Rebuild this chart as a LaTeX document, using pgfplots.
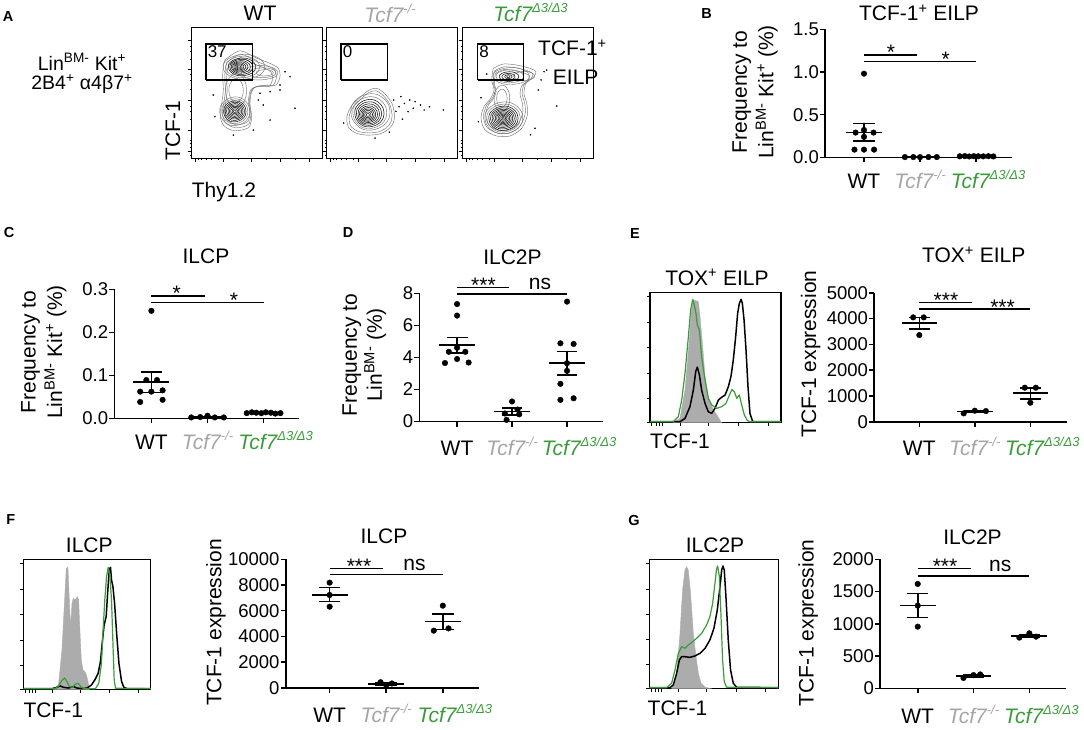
\documentclass[border=0pt]{standalone}
\usepackage{fontspec}
\setmainfont{Liberation Sans}
\usepackage{pgfplots}
\usepackage{pgfplotstable}
\pgfplotsset{compat=1.18}
\definecolor{tgreen}{RGB}{58,155,58}
\definecolor{tgray}{RGB}{165,165,165}
\definecolor{hgray}{RGB}{172,172,172}
\newcommand\Lf{\fontsize{21}{25}\selectfont}
\newcommand\Tf{\fontsize{18.5}{22}\selectfont}
\newcommand\Pf{\fontsize{14.5}{17}\selectfont\bfseries}
\newcommand\Sup[1]{\raisebox{0.42em}{\fontsize{13}{15}\selectfont #1}}
\newcommand\KO{{\color{tgray}\itshape Tcf7\Sup{-/-}}}
\newcommand\DD{{\color{tgreen}\itshape Tcf7\Sup{Δ3/Δ3}}}
\newcommand\DDs{\hspace*{24pt}\DD}

\pgfplotstableread{
x y
1 0
0.93 0.38
0.7 0.72
0.36 0.95
0 1
-0.4 0.9
-0.72 0.68
-0.95 0.36
-1 0
-0.92 -0.4
-0.68 -0.74
-0.36 -0.96
0.02 -1
0.4 -0.9
0.74 -0.68
0.95 -0.34
1 0
}\ublob

\pgfplotstableread{
x y
25.5 75.3
37.0 82.3
49.8 76.6
60.0 72.7
66.3 68.9
67.6 62.5
64.5 56.1
57.4 56.1
49.2 54.8
45.9 51.0
44.6 42.1
45.9 31.9
44.1 24.2
38.3 21.6
30.6 21.6
24.2 25.5
21.7 33.2
23.0 42.1
24.2 52.3
23.7 62.5
24.2 70.1
25.5 75.3
}\wtouter

\pgfplotstableread{
x y
23.4 68.9
31.1 72.2
41.3 71.4
51.5 68.9
56.1 66.3
54.1 62.0
48.5 57.4
46.9 49.8
49.0 42.1
49.5 33.2
45.2 23.0
36.2 17.1
26.0 17.1
17.1 21.7
14.0 30.6
16.3 39.5
21.4 45.9
24.0 52.3
22.2 60.0
23.4 68.9
}\ddouter

\pgfplotstableread{
x y
52 33
50 42
44 50
38 53.6
32 52
26 47
19 40
15.5 32
16.5 24
22 19.5
30 17.8
40 18.5
47 22
51 27
52 33
}\koouter

\newcommand\lev[5]{\addplot[#5, smooth, no marks] table[x expr={#1+#3*\thisrow{x}}, y expr={#2+#4*\thisrow{y}}]{\ublob};}
\newcommand\semA[3]{\addplot[sem] coordinates {(-0.32,#1) (0.32,#1)};\addplot[sem] coordinates {(0,#2) (0,#3)};\addplot[sem] coordinates {(-0.19,#2) (0.19,#2)};\addplot[sem] coordinates {(-0.19,#3) (0.19,#3)};}
\newcommand\semB[3]{\addplot[sem] coordinates {(0.68,#1) (1.32,#1)};\addplot[sem] coordinates {(1,#2) (1,#3)};\addplot[sem] coordinates {(0.81,#2) (1.19,#2)};\addplot[sem] coordinates {(0.81,#3) (1.19,#3)};}
\newcommand\semC[3]{\addplot[sem] coordinates {(1.68,#1) (2.32,#1)};\addplot[sem] coordinates {(2,#2) (2,#3)};\addplot[sem] coordinates {(1.81,#2) (2.19,#2)};\addplot[sem] coordinates {(1.81,#3) (2.19,#3)};}

\pgfplotsset{
 lg/.style={black!55, line width=0.45pt},
 ld/.style={black, line width=0.5pt},
 evt/.style={only marks, mark=*, mark size=0.55pt, black},
 flow/.style={scale only axis, width=130.6pt, height=130.6pt, xmin=0, xmax=100, ymin=0, ymax=100,
   axis line style={line width=1.3pt}, tick align=outside, xticklabels={}, yticklabels={},
   xtick pos=bottom, ytick pos=left, major tick length=4pt, minor tick length=2pt,
   every tick/.style={black, line width=0.8pt},
   xtick={2.5,24.2,46,67.6,90}, minor xtick={5.1,7.6,11.5,15.3,20.4,35.7,57.4,79.1},
   ytick={5,21.6,44.6,68.1,90.6}, minor ytick={2.5,8,11.4,14,30,36,40,53,60,64,76,82,86}},
 hist/.style={scale only axis, xmin=0, xmax=100, ymin=0, ymax=100,
   axis line style={line width=1.3pt}, tick align=outside, xticklabels={}, yticklabels={},
   xtick pos=bottom, ytick pos=left, major tick length=3.5pt,
   every tick/.style={black, line width=0.8pt},
   xtick={1.3,4.6,7.1,9.7,22.9,44.5,67.4,90.3}, ytick={0,18.7,37.9,57.5,76.7,96.6}},
 dotplot/.style={scale only axis, axis lines=left, axis line style={-, line width=1.6pt},
   tick align=outside, major tick length=5pt, every tick/.style={black, line width=1.6pt},
   xtick={0,1,2}, xticklabels={WT,\KO,\DDs},
   x tick label style={font=\Lf, anchor=base, yshift=-26pt},
   y tick label style={font=\Tf, inner sep=1pt},
   /pgf/number format/assume math mode=true,
   /pgf/number format/set thousands separator={},
   scaled y ticks=false, ymin=0, clip=false},
 dots/.style={only marks, mark=*, mark size=2.8pt, black},
 sem/.style={black, line width=1.6pt, no marks},
 sig/.style={black, line width=1.4pt, no marks},
 onedec/.style={yticklabel style={/pgf/number format/fixed, /pgf/number format/fixed zerofill, /pgf/number format/precision=1}},
}

\begin{document}
\begin{tikzpicture}
\path[use as bounding box] (0pt,0pt) rectangle (1084pt,-729pt);

% ---------------- Panel A ----------------
\node[font=\Pf] at (8pt,-16.7pt) {A};
\node[font=\fontsize{19.5}{23}\selectfont] at (82pt,-62pt) {Lin\textsuperscript{BM-} Kit\textsuperscript{+}};
\node[font=\fontsize{19.5}{23}\selectfont] at (82pt,-84pt) {2B4\textsuperscript{+} α4β7\textsuperscript{+}};
\node[font=\Lf] at (260pt,-13pt) {WT};
\node[font=\Lf] at (390pt,-13pt) {\KO};
\node[font=\Lf] at (530.5pt,-12pt) {\DD};
\node[font=\Lf, rotate=90] at (173pt,-131pt) {TCF-1};
\node[font=\Lf, anchor=west, inner sep=0pt] at (191.7pt,-192pt) {Thy1.2};

\begin{axis}[flow, at={(191.7pt,-158.3pt)}, anchor=south west]
 \addplot[lg, smooth, no marks] table {\wtouter};
 \addplot[lg, smooth, no marks] table[x expr={40+0.9*(\thisrow{x}-40)}, y expr={50+0.92*(\thisrow{y}-50)}] {\wtouter};
 \addplot[lg, smooth, no marks] table[x expr={39+0.8*(\thisrow{x}-39)}, y expr={50+0.84*(\thisrow{y}-50)}] {\wtouter};
 \lev{40}{70}{16}{9.5}{lg}
 \lev{39}{70}{13}{8.2}{lg}
 \lev{38.5}{70}{10.5}{6.8}{ld}
 \lev{38}{70}{8.8}{5.8}{ld}
 \lev{37.6}{70}{7.3}{4.8}{ld}
 \lev{37.2}{70}{5.9}{3.9}{ld}
 \lev{36.8}{70}{4.6}{3.1}{ld}
 \lev{36.5}{70}{3.4}{2.3}{ld}
 \lev{36.3}{70}{2.3}{1.6}{ld}
 \lev{36.2}{70}{1.2}{0.8}{ld}
 \lev{52}{65.5}{14}{5.5}{lg}
 \lev{54}{65.5}{10.5}{3.8}{lg}
 \lev{56}{65.5}{6.5}{2.4}{lg}
 \lev{34}{52}{8}{13}{lg}
 \lev{34}{52}{5.5}{9}{lg}
 \lev{33}{36}{11.5}{11}{lg}
 \lev{33}{36}{10}{9.5}{lg}
 \lev{33}{36}{8.6}{8.1}{ld}
 \lev{33}{36}{7.4}{7}{ld}
 \lev{33}{36}{6.3}{5.9}{ld}
 \lev{33}{36}{5.2}{4.9}{ld}
 \lev{33}{36}{4.1}{3.9}{ld}
 \lev{33}{36}{3.1}{2.9}{ld}
 \lev{33}{36}{2}{1.9}{ld}
 \lev{33}{36}{1}{0.9}{ld}
 \addplot[evt] coordinates {(71.4,66.3)(75.3,62.5)(67.6,56.1)(60.0,51.0)(52.3,49.8)(67.6,52.3)(51.0,44.6)(79.1,38.3)(60.0,29.3)(16.5,48.5)(17.8,31.9)(31.9,17.8)(47.2,21.6)(54.8,40.8)};
 \addplot[black, line width=1.3pt, no marks] coordinates {(11,60)(46.4,60)(46.4,87.5)(11,87.5)(11,60)};
 \node[anchor=north west, inner sep=1.5pt, font=\fontsize{17}{20}\selectfont] at (axis cs:11,87.5) {37};
\end{axis}

\begin{axis}[flow, at={(326.7pt,-158.3pt)}, anchor=south west]
 \addplot[lg, smooth, no marks] table {\koouter};
 \addplot[lg, smooth, no marks] table[x expr={33+0.9*(\thisrow{x}-33)}, y expr={35+0.9*(\thisrow{y}-35)}] {\koouter};
 \lev{33.5}{35.5}{15}{14}{lg}
 \lev{33}{35}{13}{12.2}{lg}
 \lev{32.7}{34.6}{11.2}{10.5}{ld}
 \lev{32.4}{34.3}{9.6}{9}{ld}
 \lev{32.2}{34}{8.2}{7.7}{ld}
 \lev{32}{33.8}{6.9}{6.4}{ld}
 \lev{31.8}{33.6}{5.7}{5.3}{ld}
 \lev{31.7}{33.5}{4.6}{4.3}{ld}
 \lev{31.6}{33.4}{3.5}{3.3}{ld}
 \lev{31.5}{33.3}{2.4}{2.2}{ld}
 \lev{31.5}{33.2}{1.2}{1.1}{ld}
 \addplot[evt] coordinates {(51.3,44.6)(55.4,39.5)(59.5,42.0)(63.6,44.6)(67.7,43.4)(66.3,38.3)(71.8,40.8)(74.6,37.0)(89.3,37.0)(56.8,47.2)(62.3,35.7)(78.7,39.5)(53,36)(58,30)(13,27)(37,15.5)(48,20)};
 \addplot[black, line width=1.3pt, no marks] coordinates {(11,60)(46.4,60)(46.4,87.5)(11,87.5)(11,60)};
 \node[anchor=north west, inner sep=1.5pt, font=\fontsize{17}{20}\selectfont] at (axis cs:11,87.5) {0};
\end{axis}

\begin{axis}[flow, at={(462.7pt,-158.3pt)}, anchor=south west]
 \addplot[lg, smooth, no marks] table {\ddouter};
 \addplot[lg, smooth, no marks] table[x expr={33+0.9*(\thisrow{x}-33)}, y expr={45+0.92*(\thisrow{y}-45)}] {\ddouter};
 \addplot[lg, smooth, no marks] table[x expr={32+0.8*(\thisrow{x}-32)}, y expr={45+0.84*(\thisrow{y}-45)}] {\ddouter};
 \lev{37}{63}{14}{6.5}{lg}
 \lev{36}{62.8}{10.5}{5}{lg}
 \lev{35.5}{62.6}{7.5}{3.7}{ld}
 \lev{35}{62.5}{5}{2.5}{ld}
 \lev{35}{62.5}{2.8}{1.5}{ld}
 \lev{35}{62.5}{1.2}{0.7}{ld}
 \lev{47}{63}{8}{3.5}{lg}
 \lev{30}{46}{6}{10}{lg}
 \lev{30}{46}{4}{7}{lg}
 \lev{31.5}{31}{14.5}{12.2}{lg}
 \lev{31.3}{30.8}{12.8}{10.7}{lg}
 \lev{31.2}{30.7}{11.2}{9.3}{ld}
 \lev{31.1}{30.6}{9.8}{8.1}{ld}
 \lev{31}{30.6}{8.5}{7}{ld}
 \lev{31}{30.6}{7.3}{6}{ld}
 \lev{31}{30.6}{6.1}{5}{ld}
 \lev{31}{30.6}{5}{4.1}{ld}
 \lev{31}{30.6}{3.9}{3.2}{ld}
 \lev{31}{30.6}{2.8}{2.3}{ld}
 \lev{31}{30.6}{1.8}{1.4}{ld}
 \lev{31}{30.6}{0.8}{0.6}{ld}
 \addplot[evt] coordinates {(18.4,64.5)(14.0,46.4)(57.9,52.3)(72.0,40.0)(64.3,67.6)(62.3,66.3)(55.4,23.0)(60,60)(12,28)(52,18)};
 \addplot[black, line width=1.3pt, no marks] coordinates {(11.5,60)(46.4,60)(46.4,87.5)(11.5,87.5)(11.5,60)};
 \node[anchor=north west, inner sep=1.5pt, font=\fontsize{17}{20}\selectfont] at (axis cs:11.5,87.5) {8};
\end{axis}
\node[font=\Lf, anchor=west, inner sep=0pt] at (538pt,-48pt) {TCF-1\textsuperscript{+}};
\node[font=\Lf, anchor=west, inner sep=0pt] at (552.7pt,-77.3pt) {EILP};

% ---------------- Panel B ----------------
\node[font=\Pf] at (706.7pt,-13.3pt) {B};
\node[font=\Lf] at (919pt,-13pt) {TCF-1\textsuperscript{+} EILP};
\node[font=\fontsize{21}{26.6}\selectfont, rotate=90, align=center] at (755pt,-92pt) {Frequency to\\Lin\textsuperscript{BM-} Kit\textsuperscript{+} (\%)};
\begin{axis}[dotplot, onedec, at={(825pt,-157.3pt)}, anchor=south west, width=186.7pt, height=128pt,
  xmin=-0.696, xmax=2.637, ymax=1.5, ytick={0,0.5,1,1.5}]
 \addplot[dots] coordinates {(0,0.98)(-0.15,0.29)(0.17,0.29)(0,0.24)(0,0.32)(-0.17,0.09)(0,0.09)(0.18,0.09)};
 \addplot[dots] coordinates {(0.73,0.003)(0.88,0.003)(1,0.002)(1.15,0.003)(1.3,0.003)};
 \addplot[dots] coordinates {(1.71,0.012)(1.8,0.014)(1.88,0.01)(1.96,0.013)(2.04,0.012)(2.13,0.011)(2.22,0.013)(2.31,0.01)};
 \semA{0.293}{0.19}{0.394}
 \semB{0.003}{0.002}{0.004}
 \semC{0.012}{0.011}{0.013}
 \addplot[sig] coordinates {(0,1.199)(0.95,1.199)};
 \addplot[sig] coordinates {(0,1.121)(2,1.121)};
 \node[font=\Lf, anchor=base, yshift=-5pt] at (axis cs:0.48,1.199) {*};
 \node[font=\Lf, anchor=base, yshift=-5pt] at (axis cs:1.46,1.121) {*};
\end{axis}

% ---------------- Panel C ----------------
\node[font=\Pf] at (9pt,-233pt) {C};
\node[font=\Lf] at (206pt,-256pt) {ILCP};
\node[font=\fontsize{21}{26.6}\selectfont, rotate=90, align=center] at (43.8pt,-352pt) {Frequency to\\Lin\textsuperscript{BM-} Kit\textsuperscript{+} (\%)};
\begin{axis}[dotplot, onedec, at={(114.3pt,-418.3pt)}, anchor=south west, width=185pt, height=129pt,
  xmin=-0.661, xmax=2.636, ymax=0.3, ytick={0,0.1,0.2,0.3}]
 \addplot[dots] coordinates {(0,0.25)(-0.09,0.089)(0.1,0.089)(-0.2,0.062)(0,0.062)(0.2,0.065)(-0.2,0.038)(0.2,0.043)};
 \addplot[dots] coordinates {(0.71,0.002)(0.87,0.003)(1,0.006)(1.13,0.002)(1.29,0.002)};
 \addplot[dots] coordinates {(1.7,0.012)(1.79,0.014)(1.87,0.013)(1.96,0.012)(2.04,0.014)(2.13,0.013)(2.21,0.011)(2.3,0.012)};
 \semA{0.084}{0.060}{0.108}
 \semB{0.003}{0.002}{0.004}
 \semC{0.0125}{0.012}{0.013}
 \addplot[sig] coordinates {(0,0.2845)(0.95,0.2845)};
 \addplot[sig] coordinates {(0,0.269)(2,0.269)};
 \node[font=\Lf, anchor=base, yshift=-5pt] at (axis cs:0.45,0.2845) {*};
 \node[font=\Lf, anchor=base, yshift=-5pt] at (axis cs:1.47,0.269) {*};
\end{axis}

% ---------------- Panel D ----------------
\node[font=\Pf] at (348pt,-233pt) {D};
\node[font=\Lf] at (512.5pt,-257pt) {ILC2P};
\node[font=\fontsize{21}{25}\selectfont, rotate=90, align=center] at (364.3pt,-355pt) {Frequency to\\Lin\textsuperscript{BM-} (\%)};
\begin{axis}[dotplot, at={(419.3pt,-421.5pt)}, anchor=south west, width=184pt, height=128.2pt,
  xmin=-0.687, xmax=2.66, ymax=8, ytick={0,2,4,6,8}, x tick label style={yshift=-3pt}]
 \addplot[dots] coordinates {(0,7.33)(0,6.61)(0,4.6)(-0.15,4.35)(0.15,4.35)(-0.22,3.65)(0,3.9)(0.21,3.68)};
 \addplot[dots] coordinates {(1,1.25)(1.1,0.75)(0.87,0.5)(1.13,0.45)(0.9,0.1)};
 \addplot[dots] coordinates {(2,7.48)(1.88,4.88)(2.12,4.84)(2,3.64)(2,3.16)(1.88,2.35)(1.88,1.35)(2.12,1.45)};
 \semA{4.76}{4.26}{5.24}
 \semB{0.62}{0.42}{0.83}
 \semC{3.64}{2.91}{4.36}
 \addplot[sig] coordinates {(0,8.35)(0.95,8.35)};
 \addplot[sig] coordinates {(0,7.96)(2,7.96)};
 \node[font=\Lf, anchor=base, yshift=-5pt] at (axis cs:0.48,8.35) {***};
 \node[font=\Lf, anchor=base, yshift=4pt] at (axis cs:1.51,7.96) {ns};
\end{axis}

% ---------------- Panel E ----------------
\node[font=\Pf] at (635pt,-233.3pt) {E};
\node[font=\Lf] at (717pt,-277.3pt) {TOX\textsuperscript{+} EILP};
\node[font=\Lf, anchor=west, inner sep=0pt] at (650pt,-441.7pt) {TCF-1};
\begin{axis}[hist, at={(650pt,-422.7pt)}, anchor=south west, width=131pt, height=130.4pt]
 \addplot[fill=hgray, draw=hgray] coordinates {(17.8,0)(22.9,3.3)(26.7,25.1)(30.0,63.4)(31.8,89.0)(33.1,94.1)(35.1,93.6)(36.9,92.8)(38.2,81.4)(40.2,58.4)(42.0,35.4)(44.5,20.1)(47.1,12.4)(50.9,6.0)(54.7,0)} \closedcycle;
 \addplot[black, line width=1.5pt, line join=round] coordinates {(0,0.8)(22.9,0.8)(26.7,3.3)(30.5,12.3)(33.1,25.1)(34.9,39.2)(36.1,42.6)(37.7,36.7)(39.4,25.1)(42.0,14.8)(44.5,8.4)(47.1,7.2)(49.6,11.0)(52.2,17.4)(54.7,19.5)(57.3,21.2)(59.8,27.6)(61.8,35.4)(63.6,48.2)(65.4,66.0)(66.9,83.9)(68.2,91.5)(69.5,94.6)(70.5,91.5)(71.8,78.7)(73.3,55.7)(74.8,27.6)(76.3,7.2)(78.4,0.8)(100,0.8)};
 \addplot[tgreen, line width=1.2pt, line join=round] coordinates {(0,0.8)(17.8,0.8)(21.6,4.6)(24.2,17.4)(26.7,37.9)(29.3,66.0)(31.0,86.4)(32.6,94.6)(33.8,90.2)(35.1,83.9)(36.1,74.9)(37.7,71.1)(39.4,50.6)(42.0,32.7)(44.5,18.7)(47.1,13.6)(48.9,12.3)(50.9,11.0)(54.7,12.3)(58.0,14.8)(60.6,21.2)(62.6,25.5)(64.4,23.7)(66.2,18.7)(68.2,21.2)(70.0,13.6)(72.0,6.0)(74.3,1.6)(76.3,0.8)(100,0.8)};
\end{axis}
\node[font=\Lf] at (973.7pt,-255pt) {TOX\textsuperscript{+} EILP};
\node[font=\Lf, rotate=90] at (810.6pt,-354pt) {TCF-1 expression};
\begin{axis}[dotplot, at={(874.1pt,-421.7pt)}, anchor=south west, width=193.3pt, height=129pt,
  xmin=-0.814, xmax=2.668, ymax=5000, ytick={0,1000,2000,3000,4000,5000}, x tick label style={yshift=-3pt}]
 \addplot[dots] coordinates {(-0.11,4044)(0.08,4044)(0,3359)};
 \addplot[dots] coordinates {(0.8,323)(1,426)(1.2,413)};
 \addplot[dots] coordinates {(1.9,1318)(2.1,1318)(2,736)};
 \semA{3816}{3590}{4035}
 \semB{390}{350}{425}
 \semC{1124}{880}{1318}
 \addplot[sig] coordinates {(0,4612)(0.95,4612)};
 \addplot[sig] coordinates {(0,4367)(2,4367)};
 \node[font=\Lf, anchor=base, yshift=-5pt] at (axis cs:0.48,4612) {***};
 \node[font=\Lf, anchor=base, yshift=-5pt] at (axis cs:1.5,4367) {***};
\end{axis}

% ---------------- Panel F ----------------
\node[font=\Pf] at (10.7pt,-519.3pt) {F};
\node[font=\Lf] at (89.3pt,-545pt) {ILCP};
\node[font=\Lf, anchor=west, inner sep=0pt] at (23.3pt,-710.7pt) {TCF-1};
\begin{axis}[hist, at={(23.3pt,-689.3pt)}, anchor=south west, width=127.5pt, height=130pt]
 \addplot[fill=hgray, draw=hgray] coordinates {(23.7,0)(27.6,3.3)(30.3,30.3)(32.4,68.7)(33.7,93.1)(35.0,93.8)(36.1,68.7)(37.1,48.2)(38.2,66.2)(39.2,70.0)(40.8,68.7)(42.4,71.3)(43.4,68.7)(44.5,43.1)(45.5,22.6)(46.8,14.9)(48.2,13.6)(49.5,11.0)(50.8,5.9)(51.8,0)} \closedcycle;
 \addplot[black, line width=1.5pt, line join=round] coordinates {(0,0.5)(22.4,0.5)(26.3,1.5)(28.9,2.6)(31.6,1.5)(35.5,1.0)(39.5,2.1)(42.1,1.0)(46.1,0.5)(50.0,1.0)(53.4,3.3)(56.1,7.2)(58.7,12.3)(60.5,21.3)(62.4,40.5)(63.4,49.5)(65.0,55.9)(66.3,76.4)(67.4,91.8)(68.4,93.8)(69.2,84.1)(70.3,79.0)(71.6,66.2)(73.2,43.1)(75.0,20.0)(77.1,5.9)(78.9,1.5)(81.6,0.5)(100,0.5)};
 \addplot[tgreen, line width=1.2pt, line join=round] coordinates {(0,0.5)(25.0,0.5)(27.6,2.6)(30.3,6.7)(32.4,8.7)(34.2,5.9)(36.3,2.1)(38.7,1.5)(40.8,4.1)(42.9,4.6)(45.0,2.1)(47.4,0.5)(56.6,0.5)(59.2,4.6)(61.3,20.0)(62.6,45.6)(63.9,68.7)(65.3,86.7)(66.6,93.8)(67.9,87.9)(69.2,68.7)(70.3,35.4)(71.3,7.2)(72.4,0.8)(100,0.5)};
\end{axis}
\node[font=\Lf] at (384pt,-536.7pt) {ILCP};
\node[font=\Lf, rotate=90] at (216pt,-622.5pt) {TCF-1 expression};
\begin{axis}[dotplot, at={(285.7pt,-687.7pt)}, anchor=south west, width=192.9pt, height=128.4pt,
  xmin=-0.776, xmax=2.632, ymax=10000, ytick={0,2000,4000,6000,8000,10000}, x tick label style={yshift=-4pt}]
 \addplot[dots] coordinates {(0,8182)(0,7221)(0,6312)};
 \addplot[dots] coordinates {(0.9,430)(1.0,200)(1.1,330)};
 \addplot[dots] coordinates {(2,6390)(1.84,4442)(2.1,4623)};
 \semA{7221}{6701}{7792}
 \semB{286}{210}{360}
 \semC{5143}{4545}{5740}
 \addplot[sig] coordinates {(0,9299)(0.95,9299)};
 \addplot[sig] coordinates {(0,8830)(2,8830)};
 \node[font=\Lf, anchor=base, yshift=-5pt] at (axis cs:0.52,9299) {***};
 \node[font=\Lf, anchor=base, yshift=4pt] at (axis cs:1.5,8830) {ns};
\end{axis}

% ---------------- Panel G ----------------
\node[font=\Pf] at (634pt,-520pt) {G};
\node[font=\Lf] at (715pt,-545pt) {ILC2P};
\node[font=\Lf, anchor=west, inner sep=0pt] at (647.5pt,-708.3pt) {TCF-1};
\begin{axis}[hist, at={(649.3pt,-688.3pt)}, anchor=south west, width=129pt, height=129pt]
 \addplot[fill=hgray, draw=hgray] coordinates {(17.3,0)(19.9,3.9)(21.7,16.8)(23.8,42.6)(25.8,76.2)(27.6,91.7)(28.9,94.3)(30.2,91.7)(32.0,73.6)(34.1,42.6)(36.2,24.5)(38.0,11.6)(40.1,3.9)(43.2,0.8)(47.0,0)} \closedcycle;
 \addplot[black, line width=1.5pt, line join=round] coordinates {(0,0.5)(16.0,0.5)(18.6,2.6)(21.2,11.6)(23.3,22.0)(25.1,24.5)(27.6,24.5)(31.5,24.0)(35.4,25.1)(39.3,27.1)(43.2,31.0)(47.0,37.5)(50.1,46.5)(52.7,60.7)(54.8,78.8)(56.1,91.7)(57.1,94.8)(58.1,91.7)(59.4,71.1)(61.2,37.5)(63.0,14.2)(65.1,3.9)(67.7,0.8)(100,0.5)};
 \addplot[tgreen, line width=1.2pt, line join=round] coordinates {(0,0.5)(13.4,0.5)(17.3,3.9)(19.9,14.2)(22.5,27.1)(25.1,32.3)(27.6,31.0)(30.2,33.6)(32.8,35.4)(36.7,38.8)(40.6,42.6)(44.4,49.1)(47.0,55.6)(49.1,65.9)(50.9,81.4)(52.2,93.0)(53.0,94.8)(54.3,86.6)(55.6,55.6)(56.8,22.0)(58.1,5.2)(59.9,0.8)(100,0.5)};
\end{axis}
\node[font=\Lf] at (972.5pt,-537pt) {ILC2P};
\node[font=\Lf, rotate=90] at (808.3pt,-623pt) {TCF-1 expression};
\begin{axis}[dotplot, at={(880pt,-688.3pt)}, anchor=south west, width=186pt, height=129pt,
  xmin=-0.676, xmax=2.657, ymax=2000, ytick={0,500,1000,1500,2000}, x tick label style={yshift=-4pt}]
 \addplot[dots] coordinates {(0,1618)(0,1282)(0,956)};
 \addplot[dots] coordinates {(0.82,160)(1,205)(1.12,215)};
 \addplot[dots] coordinates {(1.82,786)(2,853)(2.12,801)};
 \semA{1287}{1096}{1473}
 \semB{190}{170}{210}
 \semC{815}{795}{835}
 \addplot[sig] coordinates {(0,1860)(0.95,1860)};
 \addplot[sig] coordinates {(0,1742)(2,1742)};
 \node[font=\Lf, anchor=base, yshift=-5pt] at (axis cs:0.49,1860) {***};
 \node[font=\Lf, anchor=base, yshift=4pt] at (axis cs:1.48,1742) {ns};
\end{axis}
\end{tikzpicture}
\end{document}
